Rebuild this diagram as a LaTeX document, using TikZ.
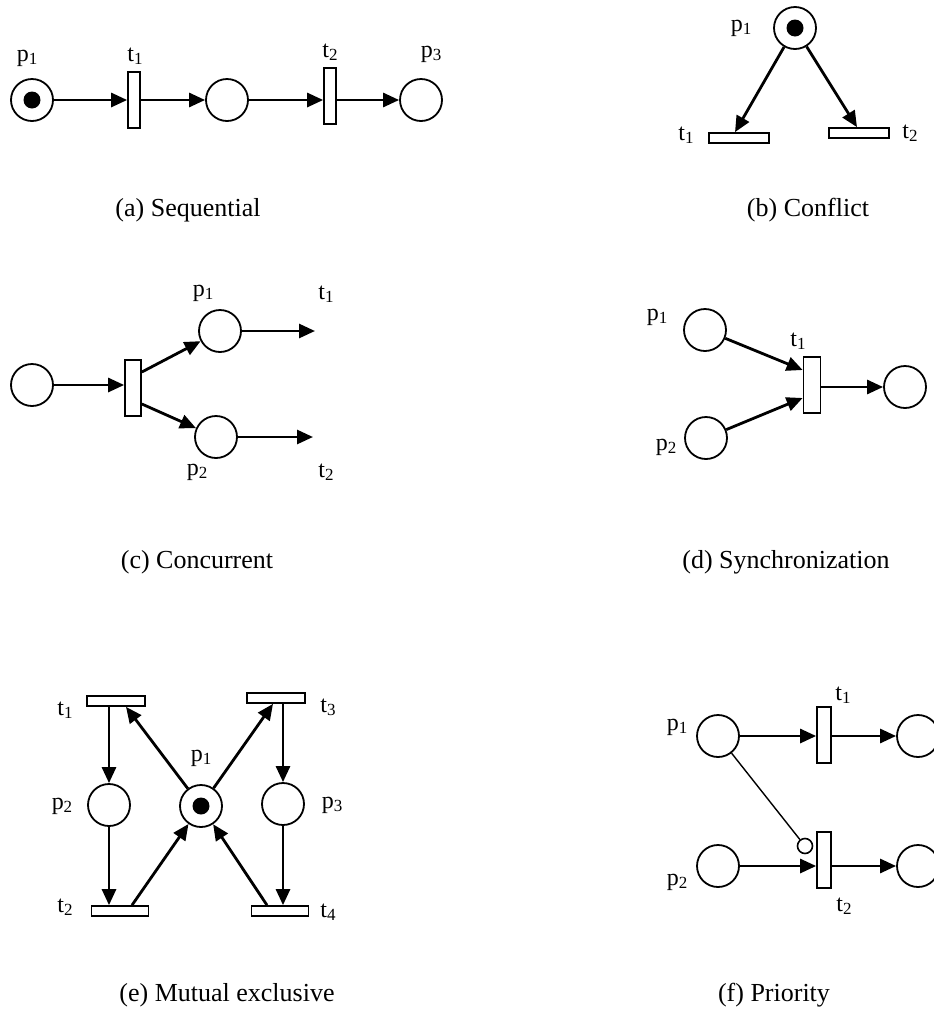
\documentclass[tikz,border=0pt]{standalone}
\usepackage{fontspec}
\setmainfont{Liberation Serif}
\usetikzlibrary{arrows.meta,calc}
\newcommand{\lsub}[1]{\raisebox{-0.3ex}{\fontsize{17}{17}\selectfont #1}}
\begin{document}
\begin{tikzpicture}[x=1pt,y=-1pt,
  place/.style={circle,draw,line width=1.8pt,minimum size=42pt,inner sep=0pt},
  trans/.style={rectangle,draw,line width=1.7pt,inner sep=0pt},
  vtrans/.style={trans,minimum width=12pt,minimum height=56pt},
  htrans/.style={trans,minimum width=58pt,minimum height=10pt},
  token/.style={circle,fill,minimum size=17pt,inner sep=0pt},
  arc/.style={line width=2.8pt,-{Triangle[length=16pt,width=14pt]}},
  lbl/.style={font=\fontsize{24}{28}\selectfont,inner sep=0pt},
  captext/.style={font=\fontsize{26}{30}\selectfont,inner sep=0pt}]
\useasboundingbox (0,0) rectangle (934,1010);

% (a) Sequential
\node[place] (ap1) at (32,100) {};
\node[token] (ak1) at (32,100) {};
\node[vtrans] (at1) at (134,100) {};
\node[place] (ap2) at (227,100) {};
\node[vtrans] (at2) at (330,96) {};
\node[place] (ap3) at (421,100) {};
\node[lbl] (alp1) at (27,58) {p\lsub{1}};
\node[lbl] (alt1) at (135,56) {t\lsub{1}};
\node[lbl] (alt2) at (330,52) {t\lsub{2}};
\node[lbl] (alp3) at (431,54) {p\lsub{3}};
\draw[arc] (ap1) -- (at1.west);
\draw[arc] (at1.east) -- (ap2);
\draw[arc] (ap2) -- (ap2 -| at2.west);
\draw[arc] (at2.east |- ap3) -- (ap3);
\node[captext] (acap) at (188,210) {(a) Sequential};

% (b) Conflict
\node[place] (bp1) at (795,28) {};
\node[token] (bk1) at (795,28) {};
\node[htrans,minimum width=60pt] (bt1) at (739,138) {};
\node[htrans,minimum width=60pt] (bt2) at (859,133) {};
\node[lbl] (blp1) at (741,28) {p\lsub{1}};
\node[lbl] (blt1) at (686,135) {t\lsub{1}};
\node[lbl] (blt2) at (910,133) {t\lsub{2}};
\draw[arc] (bp1) -- ([xshift=-4pt]bt1.north);
\draw[arc] (bp1) -- ([xshift=-2pt]bt2.north);
\node[captext] (bcap) at (808,210) {(b) Conflict};

% (c) Concurrent
\node[place] (cp0) at (32,385) {};
\node[vtrans,minimum width=16pt] (ct) at (133,388) {};
\node[place] (cp1) at (220,331) {};
\node[place] (cp2) at (216,437) {};
\coordinate (ce1) at (315,331);
\coordinate (ce2) at (313,437);
\node[lbl] (clp1) at (203,293) {p\lsub{1}};
\node[lbl] (clt1) at (326,294) {t\lsub{1}};
\node[lbl] (clp2) at (197,472) {p\lsub{2}};
\node[lbl] (clt2) at (326,472) {t\lsub{2}};
\draw[arc] (cp0) -- (cp0 -| ct.west);
\draw[arc] ([yshift=16pt]ct.east) -- (cp1);
\draw[arc] ([yshift=-16pt]ct.east) -- (cp2);
\draw[arc] (cp1) -- (ce1);
\draw[arc] (cp2) -- (ce2);
\node[captext] (ccap) at (197,562) {(c) Concurrent};

% (d) Synchronization
\node[place] (dp1) at (705,330) {};
\node[place] (dp2) at (706,438) {};
\node[vtrans,minimum width=17pt] (dt1) at (812,385) {};
\node[place] (dp3) at (905,387) {};
\node[lbl] (dlp1) at (657,317) {p\lsub{1}};
\node[lbl] (dlp2) at (666,447) {p\lsub{2}};
\node[lbl] (dlt1) at (798,341) {t\lsub{1}};
\draw[arc] (dp1) -- ([yshift=15pt]dt1.west);
\draw[arc] (dp2) -- ([yshift=-13pt]dt1.west);
\draw[arc] (dt1.east |- dp3) -- (dp3);
\node[captext] (dcap) at (786,562) {(d) Synchronization};

% (e) Mutual exclusive
\node[htrans] (et1) at (116,701) {};
\node[htrans] (et3) at (276,698) {};
\node[place] (ep2) at (109,805) {};
\node[place] (ep1) at (201,806) {};
\node[token] (ek1) at (201,806) {};
\node[place] (ep3) at (283,804) {};
\node[htrans,minimum width=57pt] (et2) at (120,911) {};
\node[htrans,minimum width=57pt] (et4) at (280,911) {};
\node[lbl] (elt1) at (65,710) {t\lsub{1}};
\node[lbl] (elt3) at (328,707) {t\lsub{3}};
\node[lbl] (elp1) at (201,758) {p\lsub{1}};
\node[lbl] (elp2) at (62,806) {p\lsub{2}};
\node[lbl] (elp3) at (332,805) {p\lsub{3}};
\node[lbl] (elt2) at (65,907) {t\lsub{2}};
\node[lbl] (elt4) at (328,912) {t\lsub{4}};
\draw[arc] (et1.south -| ep2) -- (ep2.north);
\draw[arc] (ep2.south) -- (ep2.south |- et2.north);
\draw[arc] (et3.south -| ep3) -- (ep3.north);
\draw[arc] (ep3.south) -- (ep3.south |- et4.north);
\draw[arc] (ep1) -- ([xshift=10pt]et1.south);
\draw[arc] (ep1) -- ([xshift=-3pt]et3.south);
\draw[arc] ([xshift=12pt]et2.north) -- (ep1);
\draw[arc] ([xshift=-13pt]et4.north) -- (ep1);
\node[captext] (ecap) at (227,995) {(e) Mutual exclusive};

% (f) Priority
\node[place] (fp1) at (718,736) {};
\node[place] (fp2) at (718,866) {};
\node[vtrans,minimum width=14pt] (ft1) at (824,735) {};
\node[vtrans,minimum width=14pt] (ft2) at (824,860) {};
\node[place] (fo1) at (918,736) {};
\node[place] (fo2) at (918,866) {};
\node[circle,draw,line width=1.6pt,minimum size=15pt,inner sep=0pt] (finh) at (805,846) {};
\node[lbl] (flp1) at (677,727) {p\lsub{1}};
\node[lbl] (flp2) at (677,882) {p\lsub{2}};
\node[lbl] (flt1) at (843,695) {t\lsub{1}};
\node[lbl] (flt2) at (844,906) {t\lsub{2}};
\draw[arc] (fp1) -- (fp1 -| ft1.west);
\draw[arc] (ft1.east |- fo1) -- (fo1);
\draw[arc] (fp2) -- (fp2 -| ft2.west);
\draw[arc] (ft2.east |- fo2) -- (fo2);
\draw[line width=1.4pt] (fp1) -- (finh);
\node[captext] (fcap) at (774,995) {(f) Priority};
\end{tikzpicture}
\end{document}
